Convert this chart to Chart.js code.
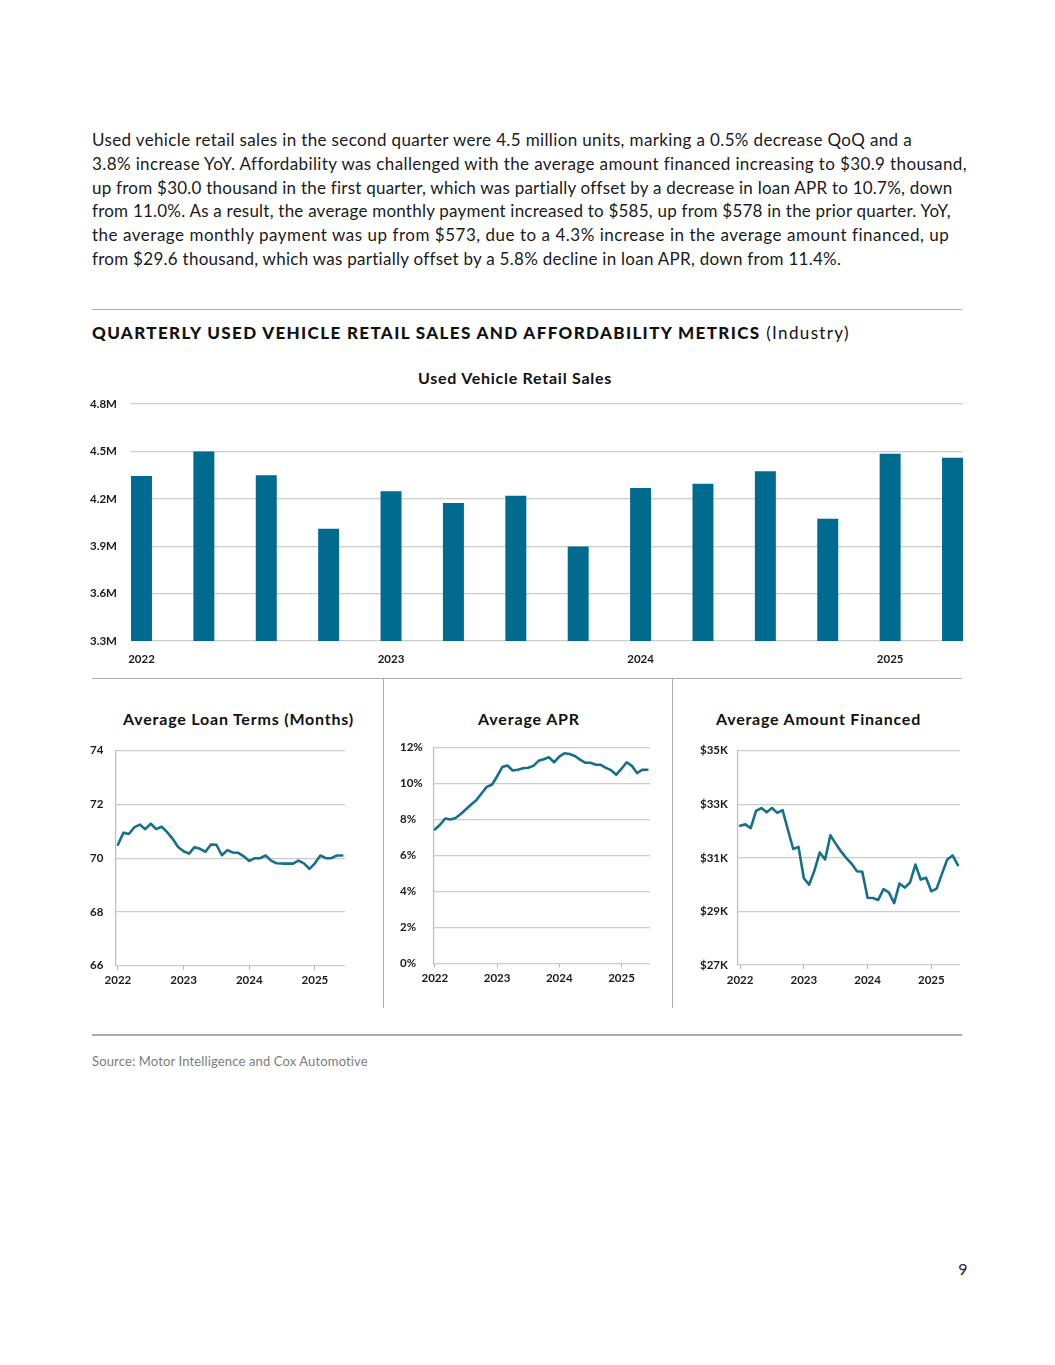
<!DOCTYPE html>
<html>
<head>
<meta charset="utf-8">
<script src="https://cdn.jsdelivr.net/npm/chart.js@4.4.0/dist/chart.umd.min.js"></script>
<style>
html,body{margin:0;padding:0;background:#fff;}
body{width:1055px;height:1365px;position:relative;overflow:hidden;font-family:Lato,"Open Sans",sans-serif;color:#1a1a1a;}
.ln{position:absolute;left:92px;white-space:nowrap;font-size:17px;line-height:23.7px;height:23.7px;}
.rule{position:absolute;background:#ababab;}
.ctitle{position:absolute;font-weight:700;font-size:16px;line-height:19px;white-space:nowrap;transform:translate(-50%,-50%);color:#111;}
.box{position:absolute;}
</style>
</head>
<body>
<div class="ln" style="top:128.2px" data-w="820">Used vehicle retail sales in the second quarter were 4.5 million units, marking a 0.5% decrease QoQ and a</div>
<div class="ln" style="top:151.9px" data-w="874">3.8% increase YoY. Affordability was challenged with the average amount financed increasing to $30.9 thousand,</div>
<div class="ln" style="top:175.6px" data-w="860">up from $30.0 thousand in the first quarter, which was partially offset by a decrease in loan APR to 10.7%, down</div>
<div class="ln" style="top:199.3px" data-w="859">from 11.0%. As a result, the average monthly payment increased to $585, up from $578 in the prior quarter. YoY,</div>
<div class="ln" style="top:223.0px" data-w="857">the average monthly payment was up from $573, due to a 4.3% increase in the average amount financed, up</div>
<div class="ln" style="top:246.7px" data-w="749">from $29.6 thousand, which was partially offset by a 5.8% decline in loan APR, down from 11.4%.</div>

<div class="rule" style="left:92px;top:308.5px;width:870px;height:1.5px;"></div>
<div id="mainTitle" style="position:absolute;left:92px;top:323px;font-size:17px;line-height:20px;white-space:nowrap;color:#111;" data-w="758"><span style="font-weight:900;">QUARTERLY USED VEHICLE RETAIL SALES AND AFFORDABILITY METRICS</span> (Industry)</div>

<div class="ctitle" style="left:515px;top:377px;" data-w="194">Used Vehicle Retail Sales</div>
<div class="box" style="left:85px;top:395px;width:885px;height:280px;"><canvas id="salesChart" width="885" height="280"></canvas></div>

<div class="rule" style="left:92px;top:677.5px;width:870px;height:1.5px;"></div>
<div class="rule" style="left:382.5px;top:678px;width:1.5px;height:330px;"></div>
<div class="rule" style="left:671.5px;top:678px;width:1.5px;height:330px;"></div>

<div class="ctitle" style="left:238.5px;top:718px;" data-w="231">Average Loan Terms (Months)</div>
<div class="ctitle" style="left:529px;top:718px;" data-w="102">Average APR</div>
<div class="ctitle" style="left:818.5px;top:718px;" data-w="205">Average Amount Financed</div>

<div class="box" style="left:85px;top:740px;width:265px;height:260px;"><canvas id="loanChart" width="265" height="260"></canvas></div>
<div class="box" style="left:395px;top:737px;width:260px;height:263px;"><canvas id="aprChart" width="260" height="263"></canvas></div>
<div class="box" style="left:695px;top:740px;width:270px;height:260px;"><canvas id="amountChart" width="270" height="260"></canvas></div>

<div class="rule" style="left:92px;top:1034px;width:870px;height:1.5px;"></div>
<div id="source" style="position:absolute;left:92px;top:1053px;font-size:13px;line-height:16px;white-space:nowrap;color:#7c7c7c;" data-w="276">Source: Motor Intelligence and Cox Automotive</div>
<div style="position:absolute;left:963px;top:1268px;transform:translate(-50%,-50%);font-size:16px;line-height:19px;color:#222;">9</div>

<script>
// ---------------- DATA ----------------
const quarterLabels = ['Q1 2022','Q2 2022','Q3 2022','Q4 2022','Q1 2023','Q2 2023','Q3 2023','Q4 2023','Q1 2024','Q2 2024','Q3 2024','Q4 2024','Q1 2025','Q2 2025'];
const retailSalesM = [4.345, 4.50, 4.349, 4.011, 4.248, 4.173, 4.219, 3.898, 4.269, 4.296, 4.374, 4.074, 4.485, 4.46];
const yearLabels = ['2022','2023','2024','2025'];
const salesTicksM = [3.3, 3.6, 3.9, 4.2, 4.5, 4.8];

// monthly, Jan 2022 – Jun 2025
const loanTermMonths = [70.5,70.95,70.9,71.15,71.25,71.08,71.28,71.08,71.17,70.97,70.72,70.42,
  70.26,70.17,70.41,70.35,70.24,70.51,70.5,70.11,70.3,70.21,70.2,70.07,
  69.9,70.0,70.0,70.1,69.91,69.81,69.8,69.8,69.8,69.91,69.81,69.6,
  69.81,70.1,70.0,70.0,70.1,70.1];
const aprPct = [7.45,7.71,8.06,8.0,8.09,8.31,8.57,8.84,9.08,9.45,9.82,9.94,
  10.4,10.92,11.01,10.73,10.77,10.86,10.88,10.99,11.27,11.36,11.47,11.19,
  11.5,11.69,11.65,11.54,11.34,11.17,11.16,11.06,11.05,10.88,10.75,10.5,
  10.83,11.19,10.99,10.59,10.77,10.77];
const amountFinancedK = [32.2,32.25,32.11,32.75,32.86,32.7,32.86,32.68,32.78,32.05,31.33,31.41,
  30.24,30.0,30.53,31.2,30.94,31.84,31.53,31.24,30.99,30.78,30.5,30.48,
  29.51,29.5,29.43,29.83,29.71,29.31,30.04,29.89,30.08,30.75,30.19,30.26,
  29.75,29.85,30.4,30.94,31.09,30.73];
const loanTicks = [66, 68, 70, 72, 74];
const aprTicks = [0, 2, 4, 6, 8, 10, 12];
const amountTicks = [27, 29, 31, 33, 35];

// ---------------- TEXT FITTING ----------------
document.querySelectorAll('[data-w]').forEach(el => {
  el.style.letterSpacing = '0px';
  const w = el.getBoundingClientRect().width;
  const n = el.textContent.length;
  const target = parseFloat(el.getAttribute('data-w'));
  el.style.letterSpacing = ((target - w) / n).toFixed(3) + 'px';
});

// ---------------- CHARTS ----------------
const FONT = 'Lato, "Open Sans", sans-serif';
const BAR = '#006a8f';
const LINE = '#16708b';
const GRID = '#cccccc';
const TICKC = '#1a1a1a';
const tickFont = {family: FONT, size: 11.5, weight: 'bold'};

const salesData = retailSalesM.map((v, i) => ({x: i, y: v, label: quarterLabels[i]}));

new Chart(document.getElementById('salesChart'), {
  type: 'bar',
  data: {datasets: [{data: salesData, backgroundColor: BAR, categoryPercentage: 1, barPercentage: 0.336}]},
  options: {
    responsive: false, animation: false,
    layout: {padding: {left: 5, top: 9, right: 7, bottom: 0}},
    plugins: {legend: {display: false}, tooltip: {enabled: false}},
    scales: {
      x: {
        type: 'linear', min: -0.168, max: 13.168, offset: false,
        grid: {display: false, drawTicks: false, offset: false}, border: {display: false},
        afterBuildTicks: s => { s.ticks = [0, 4, 8, 12].map(v => ({value: v})); },
        afterFit: s => { s.height = 34; },
        ticks: {autoSkip: false, maxRotation: 0, padding: 11, color: TICKC, font: tickFont,
          callback: v => yearLabels[v / 4]}
      },
      y: {
        min: salesTicksM[0], max: salesTicksM[salesTicksM.length - 1],
        grid: {color: GRID, lineWidth: 1.2, drawTicks: false}, border: {display: false},
        afterBuildTicks: s => { s.ticks = salesTicksM.map(v => ({value: v})); },
        afterFit: s => { s.width = 41; },
        ticks: {crossAlign: 'far', padding: 0, color: TICKC, font: tickFont,
          callback: v => v.toFixed(1) + 'M'}
      }
    }
  }
});

function lineChart(id, values, yTicks, fmt, pad, yWidth, xMin, xMax) {
  new Chart(document.getElementById(id), {
    type: 'line',
    data: {datasets: [{data: values.map((v, i) => ({x: i, y: v})), borderColor: LINE, borderWidth: 2.6,
      pointRadius: 0, tension: 0, fill: false, borderJoinStyle: 'round', borderCapStyle: 'round'}]},
    options: {
      responsive: false, animation: false,
      layout: {padding: pad},
      plugins: {legend: {display: false}, tooltip: {enabled: false}},
      scales: {
        x: {
          type: 'linear', min: xMin, max: xMax, offset: false,
          grid: {display: true, drawOnChartArea: false, drawTicks: true, tickLength: 4, color: '#b5b5b5'},
          border: {display: false},
          afterBuildTicks: s => { s.ticks = [0, 12, 24, 36].map(v => ({value: v})); },
          afterFit: s => { s.height = pad.axisH; },
          ticks: {autoSkip: false, maxRotation: 0, padding: 4, color: TICKC, font: tickFont,
            callback: v => yearLabels[v / 12]}
        },
        y: {
          min: yTicks[0], max: yTicks[yTicks.length - 1],
          grid: {color: GRID, lineWidth: 1.2, drawTicks: false},
          border: {display: true, color: '#bdbdbd', width: 1.2},
          afterBuildTicks: s => { s.ticks = yTicks.map(v => ({value: v})); },
          afterFit: s => { s.width = yWidth; },
          ticks: {crossAlign: 'far', padding: 0, color: TICKC, font: tickFont, callback: fmt}
        }
      }
    }
  });
}

lineChart('loanChart', loanTermMonths, loanTicks, v => String(v),
  {left: 5, top: 10.7, right: 5, bottom: 0, axisH: 34.3}, 26, -0.35, 41.5);
lineChart('aprChart', aprPct, aprTicks, v => v + '%',
  {left: 5, top: 10.7, right: 5, bottom: 0, axisH: 36.7}, 33.3, -0.3, 41.5);
lineChart('amountChart', amountFinancedK, amountTicks, v => '$' + v + 'K',
  {left: 5, top: 10.7, right: 5, bottom: 0, axisH: 35}, 37.7, -0.45, 41.4);
</script>
</body>
</html>
